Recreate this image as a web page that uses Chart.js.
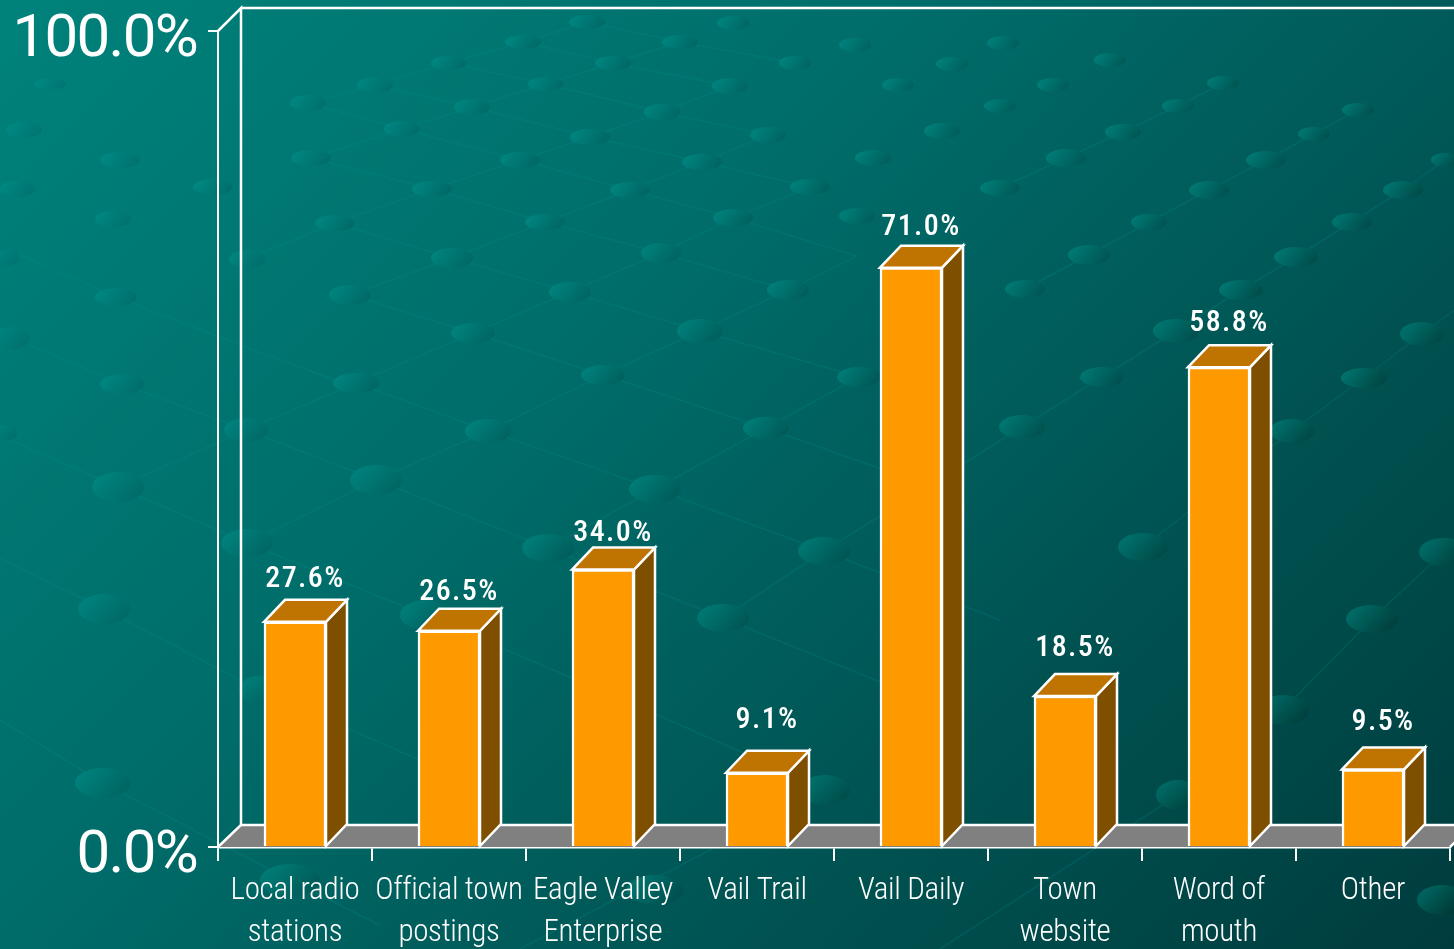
<!DOCTYPE html>
<html><head><meta charset="utf-8">
<style>html,body{margin:0;padding:0;width:1454px;height:949px;overflow:hidden;background:#005f5c}canvas{display:block}</style>
<script src="https://cdn.jsdelivr.net/npm/chart.js@4/dist/chart.umd.js"></script>
</head><body>
<div style="width:1454px;height:949px;position:relative"><canvas id="c" width="1454" height="949"></canvas></div>
<script>
const categories = [["Local radio","stations"],["Official town","postings"],["Eagle Valley","Enterprise"],["Vail Trail"],["Vail Daily"],["Town","website"],["Word of","mouth"],["Other"]];
const values = [27.6,26.5,34.0,9.1,71.0,18.5,58.8,9.5];
const valueTicks = [0,100];

const labelLift = [20,16,14,30,18,26,22,25];
const DX = 21, DY = -22;
const spots = [[118,487,26,15],[104,609,26,15],[103,783,28,15],[376,480,26,15],[247,543,26,14],[488,431,23,12],[356,383,23,10],[122,384,22,10],[246,430,22,12],[548,548,26,14],[655,489,26,14],[723,618,26,14],[824,551,26,14],[603,375,22,10],[700,331,23,12],[570,292,21,10],[788,290,21,10],[452,258,21,10],[350,295,21,10],[116,297,21,9],[247,259,18,9],[473,333,22,10],[766,428,23,11],[859,377,22,10],[1022,427,23,12],[1102,377,22,10],[1143,547,25,14],[1372,619,26,14],[1444,552,25,14],[1364,378,23,10],[1292,431,22,12],[1422,334,22,12],[1296,257,22,10],[1241,290,22,10],[1176,331,23,12],[1025,289,20,9],[1089,255,21,10],[923,255,20,9],[857,216,18,8],[733,218,20,9],[661,253,20,10],[545,222,20,8],[432,189,20,8],[311,158,20,8],[335,223,20,8],[113,219,18,8],[24,130,18,8],[120,160,20,8],[213,187,20,8],[17,189,18,8],[5,258,14,8],[10,338,20,11],[3,433,14,8],[402,129,18,8],[308,103,18,8],[520,160,20,8],[630,190,20,8],[702,162,20,8],[590,137,20,8],[472,107,18,8],[662,112,18,8],[768,135,18,8],[810,187,20,8],[873,158,18,8],[942,131,18,8],[1000,188,20,8],[1066,158,20,9],[1123,132,18,8],[1149,222,18,8],[1209,190,20,9],[1266,160,20,9],[1352,222,20,9],[1403,190,20,9],[1314,134,16,7],[1358,110,16,7],[1178,106,16,7],[1223,83,16,7],[1110,60,16,7],[1053,85,16,7],[1003,43,16,7],[1000,106,16,7],[898,85,16,7],[952,64,16,7],[855,45,16,7],[795,63,16,7],[733,23,16,7],[730,86,18,8],[680,42,18,7],[613,63,18,7],[523,42,18,7],[449,63,18,7],[375,85,18,8],[546,84,18,7],[587,22,18,7],[50,84,16,6],[1283,710,26,15],[1178,795,22,15],[825,790,25,15],[290,880,30,16],[655,890,28,15],[1442,900,25,15],[259,690,20,14],[425,615,25,15],[1445,160,14,7]];
const threads = [
[[20,255],[116,297],[240,345],[349,385]],[[30,345],[122,384],[246,430],[376,480],[548,548],[723,618],[900,690]],[[10,440],[118,487],[247,543],[425,615],[600,690],[760,760]],[[0,558],[104,609],[259,690],[420,760]],[[0,720],[103,783],[290,880],[380,925]],
[[356,383],[488,431],[655,489],[824,551],[1000,620]],[[350,295],[473,333],[603,375],[766,428],[940,490]],[[452,258],[570,292],[700,331],[859,377]],
[[1000,188],[1066,158],[1123,132],[1178,106],[1223,83]],[[1025,289],[1089,255],[1149,222],[1209,190],[1266,160],[1314,134],[1358,110]],[[1022,427],[1102,377],[1176,331],[1241,290],[1296,257],[1352,222],[1403,190],[1445,160]],[[1143,547],[1292,431],[1364,378],[1422,334],[1460,306]],[[1178,795],[1283,710],[1372,619],[1444,552]],[[723,618],[824,551],[1022,427]],[[548,548],[655,489],[766,428],[859,377]],[[247,543],[376,480],[488,431],[603,375],[700,331],[788,290],[857,256]],[[118,487],[246,430],[356,383],[473,333],[570,292],[661,253],[733,218],[810,187]],[[1283,710],[1180,790]],[[940,949],[1178,795]],[[520,949],[825,790]],
[[247,259],[335,223],[432,189],[520,160],[590,137],[662,112],[730,86]],[[350,295],[452,258],[545,222],[630,190],[702,162],[768,135]],[[311,158],[402,129],[472,107],[546,84],[613,63],[680,42]],[[308,103],[375,85],[449,63],[523,42],[587,22]],[[449,63],[546,84],[662,112],[768,135]],[[375,85],[472,107],[590,137],[702,162],[810,187]],[[308,103],[402,129],[520,160],[630,190],[733,218],[857,256]],[[311,158],[432,189],[545,222],[661,253],[788,290]],[[335,223],[452,258]],[[523,42],[613,63],[730,86]],[[587,22],[680,42],[795,63]]
];
const toneStops = [0,.37,.53,.73,1];
const toneG = [130,110,97,81,60];

function tone(x,y){
  const t = Math.min(1,Math.max(0,(x+y)/2402));
  let i = 0; while(i<3 && t>toneStops[i+1]) i++;
  const f = (t-toneStops[i])/(toneStops[i+1]-toneStops[i]);
  return {t, g: toneG[i]+(toneG[i+1]-toneG[i])*f};
}
const backdrop = {
  id:'backdrop',
  beforeDraw(chart){
    const {ctx,width:w,height:h} = chart;
    ctx.save();
    const g = ctx.createLinearGradient(0,0,1201,1201);
    g.addColorStop(0,'#00827b'); g.addColorStop(.37,'#006e6b'); g.addColorStop(.53,'#00615f'); g.addColorStop(.73,'#005150'); g.addColorStop(1,'#003c3e');
    ctx.fillStyle = g; ctx.fillRect(0,0,w,h);
    ctx.strokeStyle = 'rgba(0,150,140,.2)'; ctx.lineWidth = 1.5;
    threads.forEach(t=>{ctx.beginPath();t.forEach((p,i)=>i?ctx.lineTo(p[0],p[1]):ctx.moveTo(p[0],p[1]));ctx.stroke();});
    spots.forEach(s=>{
      const {t,g:G} = tone(s[0],s[1]);
      const up = Math.round(G+6+34*t), dn = Math.round(G-9);
      const e = ctx.createLinearGradient(s[0]-s[2]*.6,s[1]-s[3],s[0]+s[2]*.6,s[1]+s[3]);
      e.addColorStop(0,`rgb(0,${up},${up-5})`); e.addColorStop(1,`rgb(0,${dn},${dn-3})`);
      ctx.fillStyle = e;
      ctx.beginPath();ctx.ellipse(s[0],s[1],s[2],s[3],0,0,Math.PI*2);ctx.fill();
    });
    ctx.restore();
  },
  beforeDatasetsDraw(chart){
    const {ctx,chartArea:a,scales:{y}} = chart;
    const b0 = y.getPixelForValue(0), t0 = y.getPixelForValue(100);
    ctx.save();
    ctx.lineJoin='miter';
    ctx.fillStyle='#808080';
    ctx.beginPath();ctx.moveTo(a.left,b0);ctx.lineTo(a.left+DX+2,b0+DY);ctx.lineTo(a.right+DX+2,b0+DY);ctx.lineTo(a.right,b0);ctx.closePath();ctx.fill();
    ctx.strokeStyle='#fff';ctx.lineWidth=2.5;
    ctx.beginPath();ctx.moveTo(a.left,b0);ctx.lineTo(a.left+DX+2,b0+DY);ctx.lineTo(a.left+DX+2,t0+DY-1);ctx.lineTo(a.left,t0);ctx.stroke();
    ctx.beginPath();ctx.moveTo(a.left+DX+2,b0+DY);ctx.lineTo(a.right+DX+2,b0+DY);ctx.stroke();
    ctx.beginPath();ctx.moveTo(a.right,b0);ctx.lineTo(a.right+DX+2,b0+DY);ctx.stroke();
    ctx.beginPath();ctx.moveTo(a.left+DX+2,t0+DY-1);ctx.lineTo(a.right+DX+2,t0+DY-1);ctx.stroke();
    ctx.restore();
  },
  afterDatasetsDraw(chart){
    const {ctx} = chart;
    const bars = chart.getDatasetMeta(0).data;
    ctx.save();
    ctx.lineWidth=2.5;ctx.strokeStyle='#fff';ctx.lineJoin='miter';
    bars.forEach((b,i)=>{
      const l=b.x-b.width/2, r=b.x+b.width/2, t=b.y, bt=b.base;
      ctx.fillStyle='#7f4f00';
      ctx.beginPath();ctx.moveTo(r,t);ctx.lineTo(r+DX,t+DY);ctx.lineTo(r+DX,bt+DY);ctx.lineTo(r,bt);ctx.closePath();ctx.fill();ctx.stroke();
      ctx.fillStyle='#bf7300';
      ctx.beginPath();ctx.moveTo(l,t);ctx.lineTo(l+DX,t+DY);ctx.lineTo(r+DX,t+DY);ctx.lineTo(r,t);ctx.closePath();ctx.fill();ctx.stroke();
      ctx.fillStyle='#fff';ctx.textAlign='center';ctx.textBaseline='middle';
      ctx.font='500 30px "Roboto Condensed"';
      ctx.letterSpacing='1.4px';
      ctx.fillText(values[i].toFixed(1)+'%', b.x+10, t+DY-labelLift[i]);
      ctx.letterSpacing='0px';
    });
    ctx.restore();
  }
};

function styled(scale, spacing){
  if(scale._styled) return;
  scale._styled = true;
  const draw = scale.drawLabels;
  scale.drawLabels = function(area){
    const c = this.ctx;
    c.save();
    c.letterSpacing = spacing;
    draw.call(this, area);
    c.restore();
  };
}

new Chart(document.getElementById('c'),{
  type:'bar',
  data:{labels:categories,datasets:[{data:values,backgroundColor:'#ff9900',borderColor:'#ffffff',borderWidth:2.5,barThickness:62}]},
  plugins:[backdrop],
  options:{
    responsive:false,animation:false,
    layout:{padding:{top:31,right:4,left:0,bottom:0}},
    plugins:{legend:{display:false},tooltip:{enabled:false},title:{display:false}},
    scales:{
      x:{
        afterFit(s){s.height=102;s.paddingLeft=0;s.paddingRight=0;styled(s,'-0.3px');},
        border:{color:'#fff',width:2.5},
        grid:{drawOnChartArea:false,color:'#fff',lineWidth:2,tickLength:14,offset:true},
        ticks:{color:'#fff',maxRotation:0,autoSkip:false,padding:9,font:{family:'"Roboto Condensed"',weight:'300',size:31,lineHeight:1.355}}
      },
      y:{
        min:0,max:100,
        afterFit(s){s.width=218;s.paddingTop=0;s.paddingBottom=0;styled(s,'-1.7px');},
        afterBuildTicks(s){s.ticks=valueTicks.map(v=>({value:v}));},
        border:{color:'#fff',width:2},
        grid:{drawOnChartArea:false,color:'#fff',lineWidth:2,tickLength:10},
        ticks:{color:'#fff',padding:11,labelOffset:10,font:{family:'Roboto',size:60},callback:v=>v.toFixed(1)+'%'}
      }
    }
  }
});
</script>
</body></html>
